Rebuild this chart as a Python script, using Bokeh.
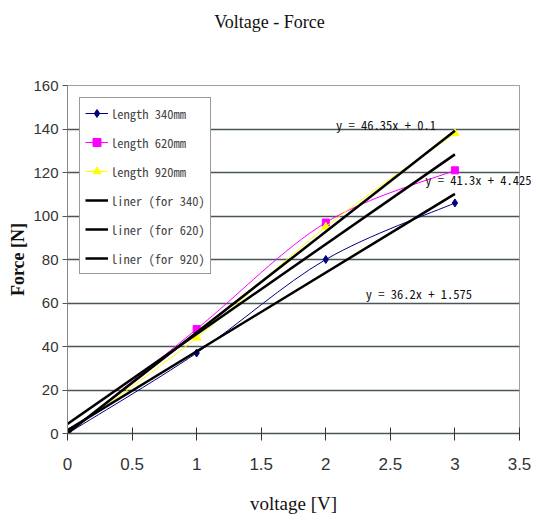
from bokeh.plotting import figure
from bokeh.models import Range1d, FixedTicker, Label, Legend, LegendItem
from bokeh.embed import file_html
from bokeh.resources import INLINE

# ---- data ----
voltage = [0, 1, 2, 3]
force_340 = [0, 37, 80, 106]
force_620 = [0, 48, 97, 121]
force_920 = [0, 44, 95, 138]

series_labels = ["length 340mm", "length 620mm", "length 920mm"]
trend_labels = ["liner (for 340)", "liner (for 620)", "liner (for 920)"]
trend_slope = [36.2, 41.3, 46.35]
trend_intercept = [1.575, 4.425, 0.1]
equations = ["y = 36.2x + 1.575", "y = 41.3x + 4.425", "y = 46.35x + 0.1"]

x_ticks = [0, 0.5, 1, 1.5, 2, 2.5, 3, 3.5]
x_tick_labels = ["0", "0.5", "1", "1.5", "2", "2.5", "3", "3.5"]
y_ticks = [0, 20, 40, 60, 80, 100, 120, 140, 160]

# ---- styling ----
colors = ["#000080", "#ff00ff", "#ffff00"]
markers = ["diamond", "square", "triangle"]
msizes = [8, 7, 8]
mono = "Noto Sans Mono CJK JP"
# label anchor positions (data units) for the equations and title
eq_pos = [(2.31, 64.5), (2.77, 117), (2.08, 142)]
title_pos = (1.564, 189)

p = figure(width=540, height=520, output_backend="svg", toolbar_location=None,
           x_range=Range1d(0, 3.5), y_range=Range1d(0, 160),
           min_border_left=67, min_border_right=21, min_border_top=85,
           min_border_bottom=87)
p.title = None

p.outline_line_color = "#a0a0a0"
p.xgrid.visible = False
p.ygrid.grid_line_color = "#4a5656"
p.ygrid.grid_line_width = 1.5
p.ygrid.ticker = FixedTicker(ticks=y_ticks)

p.xaxis.ticker = FixedTicker(ticks=x_ticks)
p.xaxis.major_label_overrides = {t_: l_ for t_, l_ in zip(x_ticks, x_tick_labels)}
p.yaxis.ticker = FixedTicker(ticks=y_ticks)
for ax in (p.xaxis, p.yaxis):
    ax.minor_tick_line_color = None
    ax.major_label_text_font = "Liberation Sans"
    ax.major_label_text_color = "#333333"
    ax.axis_label_text_font = "Liberation Serif"
    ax.axis_label_text_color = "#111111"
p.xaxis.major_label_text_font_size = "17px"
p.yaxis.major_label_text_font_size = "15px"
p.xaxis.axis_line_color = "#4a5656"
p.xaxis.axis_line_width = 1.5
p.xaxis.major_tick_line_color = "#333333"
p.xaxis.major_tick_in = 6
p.xaxis.major_tick_out = 7
p.xaxis.major_label_standoff = 17
p.xaxis.axis_label = "voltage [V]"
p.xaxis.axis_label_text_font_size = "19px"
p.xaxis.axis_label_text_font_style = "normal"
p.xaxis.axis_label_standoff = 20

p.yaxis.axis_line_color = "#888888"
p.yaxis.major_tick_line_color = "#555555"
p.yaxis.major_tick_in = 0
p.yaxis.major_tick_out = 5
p.yaxis.major_label_standoff = 4
p.yaxis.axis_label = "Force [N]"
p.yaxis.axis_label_text_font_size = "18px"
p.yaxis.axis_label_text_font_style = "bold"
p.yaxis.axis_label_standoff = 2


def smooth(xs, ys):
    n = len(xs)
    out = dict(x0=[], y0=[], x1=[], y1=[], cx0=[], cy0=[], cx1=[], cy1=[])
    for i in range(n - 1):
        pm = max(i - 1, 0)
        pp = min(i + 2, n - 1)
        out["x0"].append(xs[i]); out["y0"].append(ys[i])
        out["x1"].append(xs[i + 1]); out["y1"].append(ys[i + 1])
        out["cx0"].append(xs[i] + (xs[i + 1] - xs[pm]) / 6)
        out["cy0"].append(ys[i] + (ys[i + 1] - ys[pm]) / 6)
        out["cx1"].append(xs[i + 1] - (xs[pp] - xs[i]) / 6)
        out["cy1"].append(ys[i + 1] - (ys[pp] - ys[i]) / 6)
    return out


items = []
all_series = [force_340, force_620, force_920]
for ys, c, m, ms, lab in zip(all_series, colors, markers, msizes, series_labels):
    b = p.bezier(line_color=c, line_width=1, **smooth(voltage, ys))
    s = p.scatter(voltage, ys, marker=m, size=ms, fill_color=c, line_color=c)
    items.append(LegendItem(label=lab, renderers=[b, s]))

xmin, xmax = min(voltage), max(voltage)
for a, b0, lab in zip(trend_slope, trend_intercept, trend_labels):
    r = p.line([xmin, xmax], [a * xmin + b0, a * xmax + b0], line_color="black",
               line_width=2.5)
    items.append(LegendItem(label=lab, renderers=[r]))

# text placed in the side panel so it is not clipped at the plot frame
for txt, (ex, ey) in zip(equations, eq_pos):
    p.add_layout(Label(x=ex, y=ey, text=txt, text_font=mono,
                       text_font_size="12.5px", text_baseline="middle",
                       text_color="#111111"), "above")

p.add_layout(Label(x=title_pos[0], y=title_pos[1], text="Voltage - Force",
                   text_font="Liberation Serif", text_font_size="18px",
                   text_align="center", text_baseline="middle",
                   text_color="#111111"), "above")

leg = Legend(items=items, location="top_left", margin=12,
             label_text_font=mono, label_text_font_size="12.5px",
             label_height=20, glyph_height=20, glyph_width=23, spacing=9,
             padding=5, label_standoff=3, border_line_color="#333333",
             border_line_width=1, background_fill_alpha=1)
p.add_layout(leg)

open("out.html", "w").write(file_html(p, INLINE))
